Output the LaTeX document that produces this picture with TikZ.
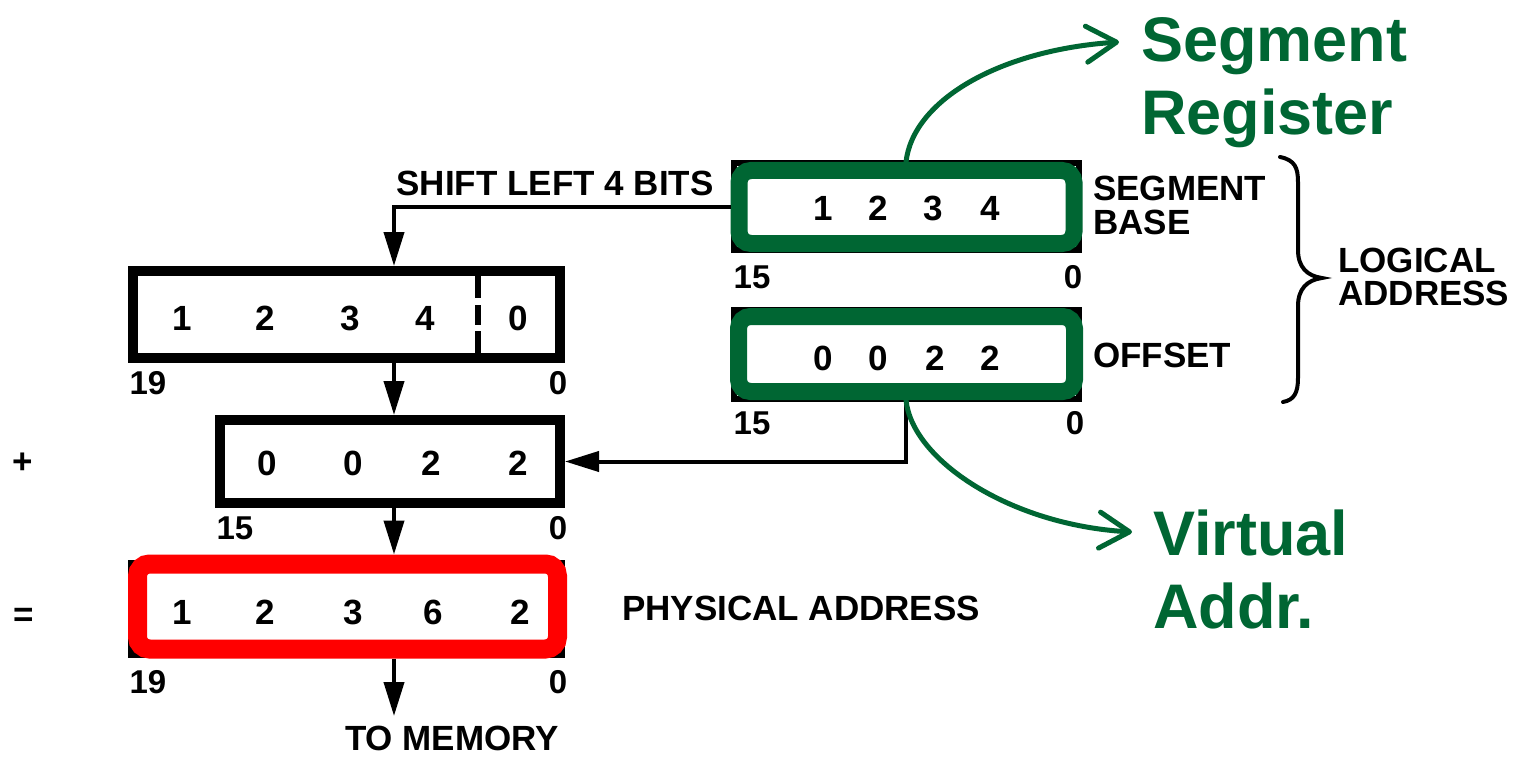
\documentclass[tikz,border=0pt]{standalone}
\usepackage{fontspec}
\setmainfont{Liberation Sans}
\usetikzlibrary{arrows.meta}
\definecolor{regGreen}{RGB}{0,102,51}
\definecolor{hiRed}{RGB}{255,0,0}

\begin{document}
\begin{tikzpicture}[x=1pt,y=-1pt,
  regbox/.style={draw=black,line width=10pt,inner sep=0pt},
  thinreg/.style={draw=black,line width=6pt,inner sep=0pt},
  ring/.style={draw=#1,line width=17pt,rounded corners=12pt,inner sep=0pt},
  digit/.style={inner sep=0pt,font=\bfseries\fontsize{35}{40}\selectfont},
  bitno/.style={inner sep=0pt,font=\bfseries\fontsize{33}{38}\selectfont},
  caps/.style={inner sep=0pt,font=\bfseries\fontsize{35}{40}\selectfont},
  gtext/.style={inner sep=0pt,anchor=base west,text=regGreen,font=\bfseries\fontsize{63}{70}\selectfont},
  blk/.style={draw=black,line width=4pt,-{Triangle[length=34pt,width=20pt]}},
  garr/.style={draw=regGreen,line width=5pt,line cap=round,
    -{Straight Barb[length=30pt,width=36pt,line cap=round,line join=round]}}]

\useasboundingbox (0,0) rectangle (1516,757);

% --- logical address registers (right) ---
\node[thinreg,minimum width=345pt,minimum height=87pt] (segb) at (906.5,206.5) {};
\node[ring=regGreen,minimum width=335pt,minimum height=73pt] (segg) at (906.5,207) {};
\node[thinreg,minimum width=345pt,minimum height=89pt] (offb) at (906.5,354.5) {};
\node[ring=regGreen,minimum width=336pt,minimum height=75pt] (offg) at (906.5,354) {};

\foreach \x/\d [count=\i] in {823/1,878/2,933/3,990/4}
  \node[digit] (sd\i) at (\x,208) {\d};
\foreach \x/\d [count=\i] in {823/0,878/0,935/2,990/2}
  \node[digit] (od\i) at (\x,358) {\d};

\node[bitno] (sbh) at (752,277) {15};
\node[bitno] (sbl) at (1073,277) {0};
\node[bitno] (obh) at (752,423) {15};
\node[bitno] (obl) at (1075,423) {0};

\node[caps,anchor=west] (lseg) at (1093,188) {SEGMENT};
\node[caps,anchor=west] (lbase) at (1093,222) {BASE};
\node[caps,anchor=west] (loff) at (1093,355) {OFFSET};
\node[caps,anchor=west] (llog) at (1338,260) {LOGICAL};
\node[caps,anchor=west] (ladr) at (1338,293) {ADDRESS};

% brace grouping segment and offset
\draw[line width=4pt,line cap=round] (1280,157) .. controls (1295,160) and (1298,168) .. (1298,182)
  -- (1298,250) .. controls (1298,267) and (1307,276) .. (1322,278)
  .. controls (1307,280) and (1298,289) .. (1298,306)
  -- (1298,378) .. controls (1298,393) and (1294,400) .. (1283,402);

% --- address computation (left) ---
\node[regbox,minimum width=427pt,minimum height=87pt] (box1) at (346.5,314.5) {};
\draw[line width=6pt,dash pattern=on 27pt off 7pt on 20pt off 6pt] (478,271) -- (478,358);
\foreach \x/\d [count=\i] in {182/1,265/2,350/3,425/4,518/0}
  \node[digit] (ad\i) at (\x,318) {\d};
\node[bitno] (abh) at (148,383) {19};
\node[bitno] (abl) at (558,383) {0};

\node[regbox,minimum width=340pt,minimum height=83pt] (box2) at (390,461.5) {};
\foreach \x/\d [count=\i] in {267/0,353/0,431/2,518/2}
  \node[digit] (bd\i) at (\x,463) {\d};
\node[bitno] (bbh) at (235,528) {15};
\node[bitno] (bbl) at (558,528) {0};

\node[regbox,minimum width=427pt,minimum height=88pt] (box3) at (346.5,609) {};
\node[ring=hiRed,line width=19pt,minimum width=420pt,minimum height=85pt] (redbox) at (347.5,606.5) {};
\foreach \x/\d [count=\i] in {182/1,265/2,353/3,433/6,520/2}
  \node[digit] (pd\i) at (\x,612) {\d};
\node[bitno] (pbh) at (148,682) {19};
\node[bitno] (pbl) at (558,682) {0};

\node[caps] (plus) at (23,463) {+};
\node[caps] (eq) at (24,617) {=};
\node[caps,anchor=west] (lphys) at (622,608) {PHYSICAL ADDRESS};
\node[caps] (lshift) at (555,183) {SHIFT LEFT 4 BITS};
\node[caps] (lmem) at (452,738) {TO MEMORY};

% --- connectors ---
\coordinate (ax) at (394,0);
\coordinate (vx) at (906,0);
\coordinate (mem) at (394,716);
\draw[blk] (segb.west) -| (box1.north -| ax);
\draw[blk] (box1.south -| ax) -- (box2.north -| ax);
\draw[blk] (offb.south -| vx) |- (box2.east);
\draw[blk] (box2.south -| ax) -- (redbox.north -| ax);
\draw[blk] (redbox.south -| ax) -- (mem);

% --- annotations ---
\coordinate (segtip) at (1119,42);
\coordinate (virtip) at (1132,532);
\draw[garr] (segg.north -| vx) .. controls (913,100) and (1000,50) .. (segtip);
\draw[garr] (offg.south -| vx) .. controls (912,460) and (1010,525) .. (virtip);

\node[gtext] (gseg) at (1141,62) {Segment};
\node[gtext] (greg) at (1141,135) {Register};
\node[gtext] (gvir) at (1153,555) {Virtual};
\node[gtext] (gadr) at (1153,628) {Addr.};
\end{tikzpicture}
\end{document}
